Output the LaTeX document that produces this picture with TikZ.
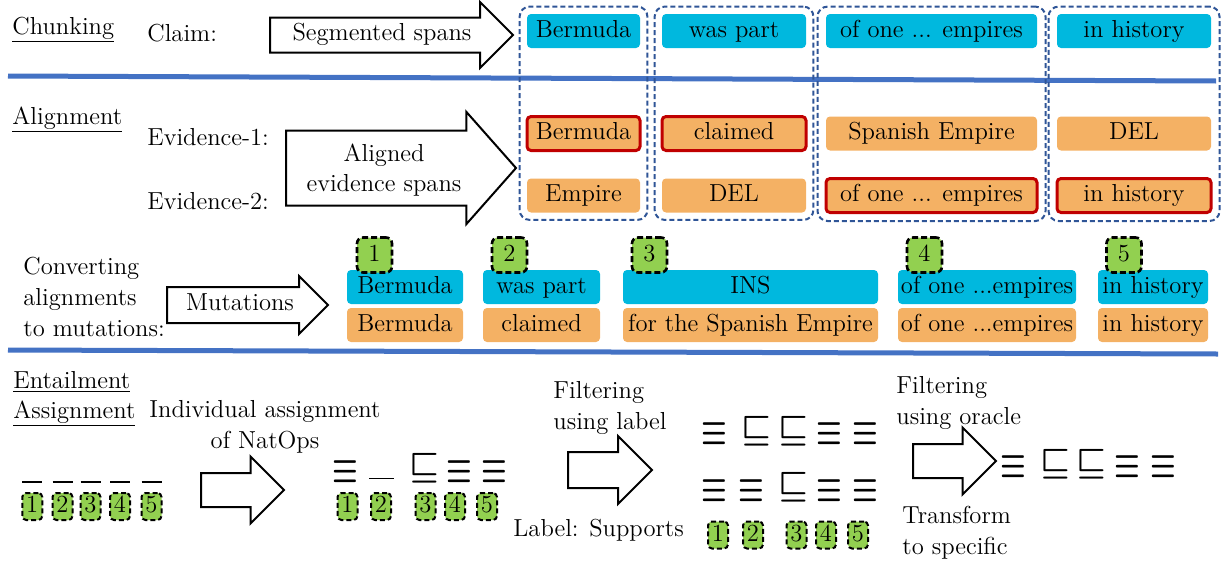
\documentclass[tikz,border=0pt]{standalone}
\usepackage{graphicx}
\usetikzlibrary{shapes.geometric, shapes.arrows, arrows, positioning, fit}

\definecolor{spanblue}{RGB}{0,184,222}
\definecolor{spanorange}{RGB}{244,177,100}
\definecolor{idgreen}{RGB}{146,208,80}
\definecolor{sepblue}{RGB}{68,114,196}
\definecolor{groupblue}{RGB}{47,85,151}
\definecolor{alignred}{RGB}{192,0,0}

\tikzstyle{claimspan} = [rectangle, rounded corners=2pt, minimum height=17pt, inner sep=1pt, text height=8.5pt, text depth=2.5pt, text centered, fill=spanblue]
\tikzstyle{evispan} = [claimspan, fill=spanorange]
\tikzstyle{aligned} = [evispan, draw=alignred, line width=1.5pt]
\tikzstyle{spangroup} = [rectangle, rounded corners=5pt, draw=groupblue, line width=1pt, dash pattern=on 2.5pt off 1.5pt, inner sep=3.5pt]
\tikzstyle{mutid} = [rectangle, rounded corners=3pt, minimum width=17.5pt, minimum height=17.5pt, inner sep=0pt, text height=7.9pt, text depth=1pt, fill=idgreen, draw=black, line width=1.3pt, dash pattern=on 3pt off 1.5pt]
\tikzstyle{smallid} = [mutid, minimum width=10pt, minimum height=13.5pt, line width=1pt, dash pattern=on 2.5pt off 1.5pt, rounded corners=2pt, text depth=1.5pt]
\tikzstyle{bigarrow} = [single arrow, draw=black, fill=white, line width=1pt, anchor=tail, inner sep=0pt, minimum width=0pt, single arrow tip angle=90]
\tikzstyle{stepname} = [inner sep=0pt, anchor=base west]
\tikzstyle{multitext} = [inner sep=0pt, anchor=north west, align=left]
\tikzstyle{natop} = [inner sep=0pt, font=\fontsize{14}{14}\selectfont\boldmath]
\tikzstyle{sepline} = [draw=sepblue, line width=2.5pt]

\newcommand{\opEq}{\scalebox{1}[1.5]{$\equiv$}}
\newcommand{\opSub}{\scalebox{1.15}{$\sqsubseteq$}}

\begin{document}
\begin{tikzpicture}[x=0.5pt, y=-0.5pt, font=\fontsize{12.3}{15.4}\selectfont]
\useasboundingbox (0,0) rectangle (1224,562);

% separators
\draw [sepline] (8,76) -- (1216,81);
\draw [sepline] (8,350) -- (1218,354);

% chunking
\node (chunkTitle) [stepname] at (12,34) {\underline{Chunking}};
\node (claimLbl)   [stepname] at (147,41) {Claim:};
\node (arrChunk)   [bigarrow, minimum height=121.5pt, inner ysep=8.25pt, single arrow head extend=7.75pt] at (269,35) {};
\node (segTxt)     [inner sep=0pt, anchor=base] at (382,40) {Segmented spans};

\node (cBer) [claimspan, minimum width=56.5pt] at (583.5,31) {Bermuda};
\node (cWas) [claimspan, minimum width=72pt]   at (734,31)   {was part};
\node (cOne) [claimspan, minimum width=105.5pt] at (931.5,31) {of one ... empires};
\node (cHis) [claimspan, minimum width=77pt]   at (1134,31)  {in history};

% alignment
\node (alignTitle) [stepname] at (12,124) {\underline{Alignment}};
\node (evi1Lbl)    [stepname] at (147,145) {Evidence-1:};
\node (evi2Lbl)    [stepname] at (147,209) {Evidence-2:};
\node (arrAlign)   [bigarrow, minimum height=115pt, inner ysep=18.25pt, single arrow head extend=9.25pt, single arrow tip angle=97] at (285,168) {};
\node (alignTxt)   [align=center, inner sep=0pt] at (384,170) {Aligned\\evidence spans};

\node (e1Ber) [aligned, minimum width=56.5pt, node distance=51.25pt, below of=cBer] {Bermuda};
\node (e1Was) [aligned, minimum width=72pt,   node distance=51.25pt, below of=cWas] {claimed};
\node (e1One) [evispan, minimum width=105.5pt, node distance=51.25pt, below of=cOne] {Spanish Empire};
\node (e1His) [evispan, minimum width=77pt,   node distance=51.25pt, below of=cHis] {DEL};
\node (e2Ber) [evispan, minimum width=56.5pt, node distance=31pt, below of=e1Ber] {Empire};
\node (e2Was) [evispan, minimum width=72pt,   node distance=31pt, below of=e1Was] {DEL};
\node (e2One) [aligned, minimum width=105.5pt, node distance=31pt, below of=e1One] {of one ... empires};
\node (e2His) [aligned, minimum width=77pt,   node distance=31pt, below of=e1His] {in history};

\node (grpBer) [spangroup, fit=(cBer)(e2Ber)] {};
\node (grpWas) [spangroup, fit=(cWas)(e2Was)] {};
\node (grpOne) [spangroup, fit=(cOne)(e2One)] {};
\node (grpHis) [spangroup, fit=(cHis)(e2His)] {};

% mutations
\node (convLbl) [multitext] at (23,257) {Converting\\alignments\\to mutations:};
\node (arrMut)  [bigarrow, minimum height=80.5pt, inner ysep=8.5pt, single arrow head extend=5.5pt] at (166,305) {};
\node (mutTxt)  [inner sep=0pt, anchor=base] at (240,310) {Mutations};

\node (mBer) [claimspan, minimum width=58pt]    at (405,287)   {Bermuda};
\node (mWas) [claimspan, minimum width=58.5pt]  at (541.5,287) {was part};
\node (mIns) [claimspan, minimum width=127.5pt] at (750.5,287) {INS};
\node (mOne) [claimspan, minimum width=89pt]    at (987,287)   {of one ...empires};
\node (mHis) [claimspan, minimum width=55pt]    at (1153,287)  {in history};
\node (nBer) [evispan, minimum width=58pt,    node distance=19pt, below of=mBer] {Bermuda};
\node (nWas) [evispan, minimum width=58.5pt,  node distance=19pt, below of=mWas] {claimed};
\node (nIns) [evispan, minimum width=127.5pt, node distance=19pt, below of=mIns] {for the Spanish Empire};
\node (nOne) [evispan, minimum width=89pt,    node distance=19pt, below of=mOne] {of one ...empires};
\node (nHis) [evispan, minimum width=55pt,    node distance=19pt, below of=mHis] {in history};

\foreach \i/\x in {1/374.5, 2/509.5, 3/649.5, 4/924.5, 5/1124}
  \node (mid\i) [mutid] at (\x,255) {\i};

% entailment assignment
\node (entTitleA) [stepname] at (13,388) {\underline{Entailment}};
\node (entTitleB) [stepname] at (13,418) {\underline{Assignment}};
\node (indivTxt)  [inner sep=0pt, anchor=north, align=center] at (265,400) {Individual assignment\\of NatOps};

\foreach \i/\x in {1/32.25, 2/62.5, 3/90.5, 4/120, 5/151.5} {
  \node (barA\i) [inner sep=0pt] at (\x,482) {\rule{10pt}{1pt}};
  \node (idA\i) [smallid] at (\x,506.5) {\i};
}
\node (arrAssign) [bigarrow, minimum height=41.5pt, inner ysep=8pt, single arrow head extend=8.25pt] at (200,490) {};

\node (opB1) [natop] at (345,471.5) {\opEq};
\node (opB2) [inner sep=0pt] at (381.5,478.5) {\rule{12.3pt}{0.8pt}};
\node (opB3) [natop] at (424,468) {\opSub};
\node (opB4) [natop] at (459,471.5) {\opEq};
\node (opB5) [natop] at (494.5,471.5) {\opEq};
\foreach \i/\x in {1/347.5, 2/381, 3/425.5, 4/455, 5/487}
  \node (idB\i) [smallid] at (\x,506.5) {\i};

% filtering using label
\node (filtLblTxt) [multitext] at (553,381) {Filtering\\using label};
\node (arrLabel)   [bigarrow, minimum height=42pt, inner ysep=8.5pt, single arrow head extend=8pt] at (567,470) {};
\node (supTxt)     [stepname] at (513,536) {Label: Supports};

\foreach \x/\s/\y [count=\i] in {714.5/\opEq/434, 756.5/\opSub/431, 793/\opSub/431, 829.5/\opEq/434, 865/\opEq/434}
  \node (opC\i) [natop] at (\x,\y) {\s};
\foreach \x/\s/\y [count=\i] in {714.5/\opEq/490.5, 751/\opEq/490.5, 793/\opSub/487.5, 829.5/\opEq/490.5, 865/\opEq/490.5}
  \node (opD\i) [natop] at (\x,\y) {\s};
\foreach \i/\x in {1/718, 2/753, 3/796.5, 4/826, 5/858}
  \node (idC\i) [smallid] at (\x,535) {\i};

% filtering using oracle
\node (filtOraTxt) [multitext] at (896,376) {Filtering\\using oracle};
\node (arrOracle)  [bigarrow, minimum height=41.5pt, inner ysep=8pt, single arrow head extend=8.25pt] at (912,461) {};
\node (transTxt)   [multitext] at (902,506) {Transform\\to specific};

\foreach \x/\s/\y [count=\i] in {1013/\opEq/467, 1055/\opSub/464.5, 1091.5/\opSub/464.5, 1127.5/\opEq/467, 1163/\opEq/467}
  \node (opE\i) [natop] at (\x,\y) {\s};
\end{tikzpicture}
\end{document}
